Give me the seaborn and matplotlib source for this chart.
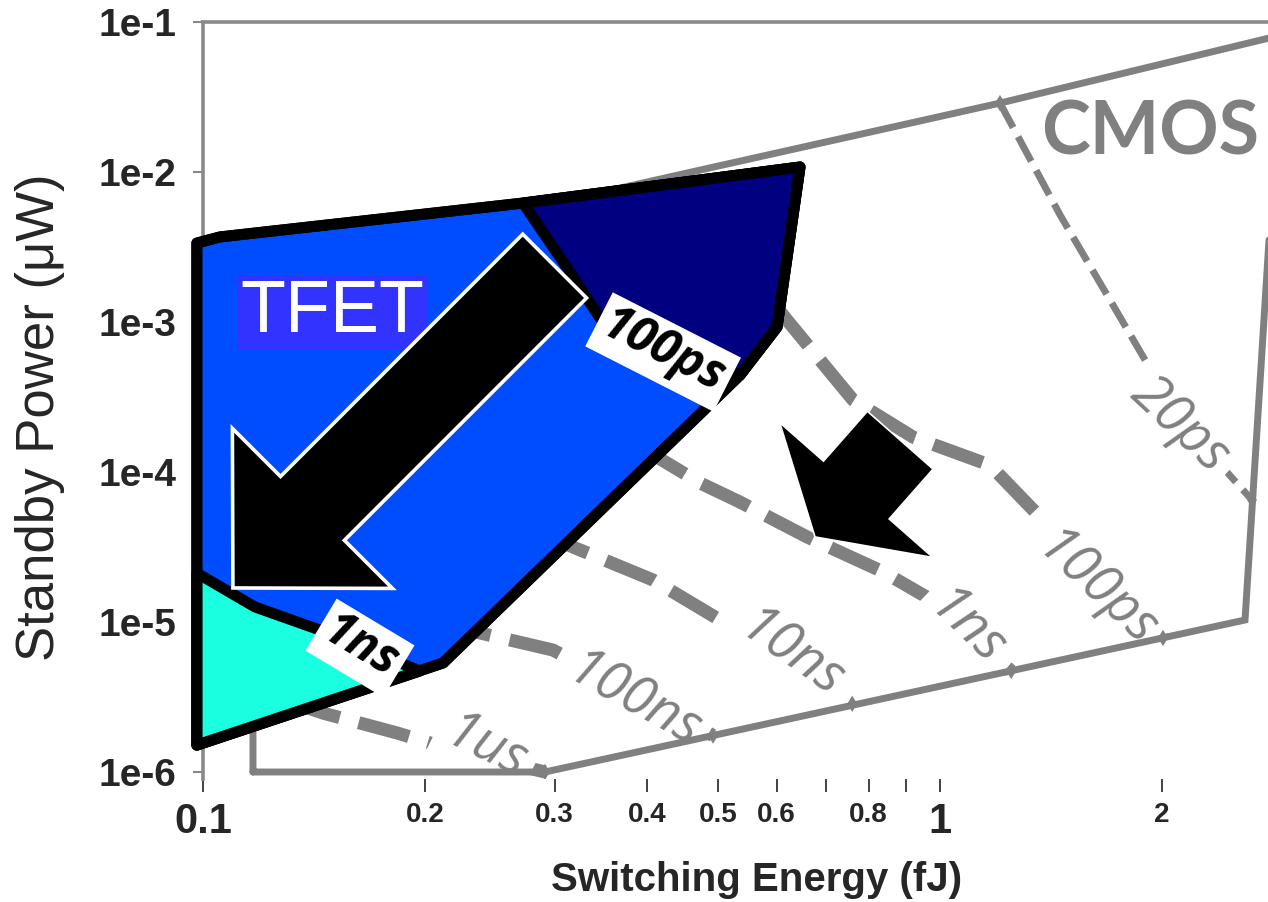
import matplotlib
matplotlib.use("Agg")
import matplotlib.pyplot as plt
from matplotlib.patches import FancyArrowPatch, ArrowStyle
from matplotlib.ticker import NullLocator
import seaborn as sns

# ---------------------------------------------------------------------------
# Constant-delay contours: switching energy (fJ) vs standby power (uW)
# ---------------------------------------------------------------------------
c20ps_e = [1.206, 1.455, 1.701, 2.117, 2.65]
c20ps_p = [2.88e-2, 5.17e-3, 1.40e-3, 2.22e-4, 6.51e-5]
c100ps_e = [0.597, 0.620, 0.762, 0.919, 1.169, 1.367, 2.007]
c100ps_p = [1.30e-3, 1.03e-3, 3.02e-4, 1.71e-4, 1.11e-4, 5.01e-5, 7.83e-6]
c1ns_e = [0.392, 0.4725, 0.535, 0.660, 0.837, 0.975, 1.249]
c1ns_p = [1.47e-4, 8.45e-5, 6.31e-5, 3.69e-5, 2.16e-5, 1.40e-5, 4.72e-6]
c10ns_e = [0.2866, 0.3177, 0.408, 0.503, 0.760]
c10ns_p = [3.98e-5, 3.16e-5, 1.905e-5, 1.03e-5, 2.85e-6]
c100ns_e = [0.2097, 0.2376, 0.2985, 0.320, 0.492]
c100ns_p = [1.0e-5, 8.45e-6, 6.5e-6, 5.41e-6, 1.75e-6]
c1us_e = [0.1312, 0.1455, 0.1834, 0.2117, 0.291]
c1us_p = [2.93e-6, 2.47e-6, 1.82e-6, 1.47e-6, 1.0e-6]

# Contour labels: text, energy, power, angle
contour_labels = ["20ps", "100ps", "1ns", "10ns", "100ns", "1us"]
contour_label_e = [2.117, 1.623, 1.085, 0.626, 0.383, 0.2414]
contour_label_p = [2.06e-4, 1.63e-5, 9.12e-6, 6.03e-6, 2.93e-6, 1.445e-6]
contour_label_rot = [-43, -43, -44, -35, -29, -26]

# CMOS design space boundary
cmos_e = [0.1169, 0.291, 2.593, 2.91, 1.206, 0.4725, 0.1169, 0.1169]
cmos_p = [1e-6, 1e-6, 1.031e-5, 0.082, 0.0288, 0.0103, 2.2e-3, 1e-6]

# TFET design space and its delay sub-regions
tfet_e = [0.0981, 0.2117, 0.5354, 0.5645, 0.601, 0.6457, 0.2718, 0.1054, 0.0981]
tfet_p = [1.51e-6, 5.33e-6, 4.43e-4, 6.21e-4, 9.26e-4, 1.08e-2, 6.21e-3, 3.69e-3, 3.36e-3]
tfet_fast_e = [0.2718, 0.6457, 0.601, 0.5645, 0.5354, 0.4725, 0.3916, 0.3457, 0.310]
tfet_fast_p = [6.21e-3, 1.08e-2, 9.26e-4, 6.21e-4, 4.43e-4, 5.17e-4, 7.03e-4, 1.06e-3, 2.40e-3]
tfet_slow_e = [0.0981, 0.1176, 0.1441, 0.197, 0.0981]
tfet_slow_p = [2.12e-5, 1.26e-5, 8.84e-6, 4.71e-6, 1.51e-6]

# Region labels
tfet_label_pos = (0.1496, 1.15e-3)
cmos_label_pos = (1.927, 0.0182)
box_labels = ["100ps", "1ns"]
box_label_e = [0.421, 0.1633]
box_label_p = [6.31e-4, 6.71e-6]
box_label_rot = [-27, -31]

# Trend arrows (tail -> tip)
big_arrow = [(0.300, 2.36e-3), (0.1098, 1.686e-5)]
small_arrow = [(0.883, 1.63e-4), (0.6767, 3.69e-5)]

# Axis ticks
x_ticks = [0.1, 0.2, 0.3, 0.4, 0.5, 0.6, 0.7, 0.8, 0.9, 1, 2]
x_tick_labels = ["0.1", "0.2", "0.3", "0.4", "0.5", "0.6", "", "0.8", "", "1", "2"]
y_ticks = [1e-6, 1e-5, 1e-4, 1e-3, 1e-2, 1e-1]
y_tick_labels = ["1e-6", "1e-5", "1e-4", "1e-3", "1e-2", "1e-1"]

# ---------------------------------------------------------------------------
sns.set_style("white")
plt.rcParams["font.family"] = ["Liberation Sans", "DejaVu Sans"]

GRAY = "#808080"
fig = plt.figure(figsize=(12.68, 9.02), dpi=100)
ax = fig.add_axes([0.16009, 0.13581, 0.83991, 0.83980])
ax.set_xscale("log")
ax.set_yscale("log")
ax.set_xlim(0.1, 2.786)
ax.set_ylim(10 ** -6.05, 0.1)

# dashed delay contours
contours = [
    (c20ps_e, c20ps_p, 5.0),
    (c100ps_e, c100ps_p, 9.4),
    (c1ns_e, c1ns_p, 9.4),
    (c10ns_e, c10ns_p, 9.4),
    (c100ns_e, c100ns_p, 9.4),
    (c1us_e, c1us_p, 9.4),
]
for ce, cp, lw in contours:
    sns.lineplot(x=ce, y=cp, sort=False, estimator=None, ax=ax, color=GRAY,
                 linewidth=lw, linestyle=(0, (4, 1.5)), zorder=2)

for txt, le, lp, rot in zip(contour_labels, contour_label_e, contour_label_p,
                            contour_label_rot):
    ax.text(le, lp, txt, color=GRAY, fontsize=39, rotation=rot,
            rotation_mode="anchor", ha="center", va="center",
            family=["Open Sans", "DejaVu Sans"], style="italic", zorder=3,
            bbox=dict(boxstyle="square,pad=0.18", fc="white", ec="none"))

# CMOS boundary
sns.lineplot(x=cmos_e, y=cmos_p, sort=False, estimator=None, ax=ax,
             color=GRAY, linewidth=5.0, solid_joinstyle="miter", zorder=4)
end_e = [c[0][-1] for c in contours] + [c20ps_e[0]]
end_p = [c[1][-1] for c in contours] + [c20ps_p[0]]
sns.scatterplot(x=end_e, y=end_p, marker="d", s=70, color=GRAY,
                edgecolor="none", ax=ax, zorder=4)
ax.text(*cmos_label_pos, "CMOS", color=GRAY, fontsize=53, fontweight="bold",
        family=["Lato", "DejaVu Sans"], ha="center", va="center", zorder=6)

# TFET regions
OUT = 7.9
ax.fill(tfet_e, tfet_p, facecolor="#004cff", edgecolor="black", linewidth=OUT,
        joinstyle="round", zorder=5, clip_on=False)
ax.fill(tfet_fast_e, tfet_fast_p, facecolor="#000080", edgecolor="black",
        linewidth=OUT, joinstyle="round", zorder=5.1, clip_on=False)
ax.fill(tfet_slow_e, tfet_slow_p, facecolor="#1affe0", edgecolor="black",
        linewidth=OUT, joinstyle="round", zorder=5.2, clip_on=False)
ax.fill(tfet_e, tfet_p, facecolor="none", edgecolor="black", linewidth=OUT,
        joinstyle="round", zorder=5.3, clip_on=False)

ax.text(*tfet_label_pos, "TFET", color="white", fontsize=53, ha="center",
        va="center", zorder=6,
        bbox=dict(boxstyle="square,pad=0.04", fc="#3333ff", ec="none"))


def block_arrow(tail, tip, head_len, head_w, tail_w, edge_lw):
    style = ArrowStyle.Simple(head_length=head_len, head_width=head_w,
                              tail_width=tail_w)
    patch = FancyArrowPatch(posA=tail, posB=tip, arrowstyle=style,
                            mutation_scale=1, shrinkA=0, shrinkB=0,
                            facecolor="black", edgecolor="white",
                            linewidth=edge_lw, joinstyle="miter",
                            transform=ax.transData, zorder=7, clip_on=False)
    ax.add_patch(patch)


block_arrow(big_arrow[0], big_arrow[1], 81, 163, 65, 2.6)
block_arrow(small_arrow[0], small_arrow[1], 45, 147, 63, 1.2)

for txt, be, bp, rot in zip(box_labels, box_label_e, box_label_p, box_label_rot):
    ax.text(be, bp, txt, color="black", fontsize=35, fontweight="bold",
            style="italic", rotation=rot, rotation_mode="anchor",
            ha="center", va="center", family=["Open Sans", "DejaVu Sans"],
            zorder=8,
            bbox=dict(boxstyle="square,pad=0.12", fc="white", ec="none"))

# axes styling
for side in ("right", "bottom"):
    ax.spines[side].set_visible(False)
for side in ("left", "top"):
    ax.spines[side].set_color("#8a8a8a")
    ax.spines[side].set_linewidth(2.6)

ax.set_xticks(x_ticks)
ax.set_xticklabels(x_tick_labels)
ax.set_yticks(y_ticks)
ax.set_yticklabels(y_tick_labels)
ax.xaxis.set_minor_locator(NullLocator())
ax.yaxis.set_minor_locator(NullLocator())
ax.tick_params(axis="x", which="major", bottom=True, direction="out",
               length=9, width=1.3, color="#333333", pad=7)
ax.tick_params(axis="y", which="major", left=True, direction="out",
               length=7, width=1.5, color="#888888", pad=12)
for lbl in ax.get_xticklabels():
    big = lbl.get_text() in ("0.1", "1")
    lbl.set_fontsize(30 if big else 20)
    lbl.set_fontweight("bold")
for lbl in ax.get_yticklabels():
    lbl.set_fontsize(28)
    lbl.set_fontweight("bold")

ax.set_xlabel("Switching Energy (fJ)", fontsize=29, fontweight="bold",
              va="center")
ax.xaxis.set_label_coords(0.520, -0.1327)
ax.set_ylabel("Standby Power (μW)", fontsize=38, va="center")
ax.yaxis.set_label_coords(-0.153, 0.4785)

fig.savefig("out.png", dpi=100)
